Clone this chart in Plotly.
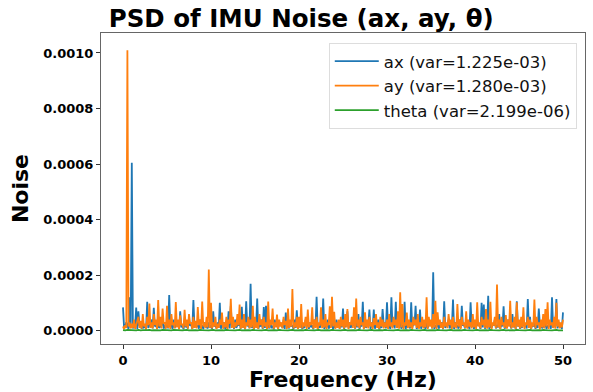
import plotly.graph_objects as go

# PSD values in units of 1e-5, frequency grid 0.125 Hz (0 .. 50 Hz)
ax_psd = [
    8.4, 1, 1.5, 3, 2, 0.5, 12, 1, 60.5, 0.8, 2, 1.5, 8.3, 0.6, 7, 2, 2, 0.7, 3, 1.2, 1.5, 0.5, 10.4, 1, 2, 2.5, 4, 0.8, 8.2, 1.5, 2, 0.6, 3, 1, 1.5, 2, 4, 0.7, 2, 1.2,
    3, 0.8, 12.8, 1.5, 2, 0.6, 4, 1, 2, 2.5, 3, 0.7, 7, 1.2, 2, 0.5, 3, 1.5, 1.5, 0.8, 4, 2, 2, 0.6, 11, 1, 3, 1.5, 2, 0.7, 4, 1.2, 2, 0.5, 3, 2, 1.5, 0.8, 3, 1,
    2, 0.6, 7, 1.5, 2, 0.8, 3, 1, 10, 0.7, 2, 2, 3, 0.5, 1.5, 1.2, 7, 0.8, 9, 1.5, 2, 0.6, 4, 1, 2, 2, 3, 0.7, 8.6, 1.2, 2, 0.5, 10.6, 1.5, 3, 0.8, 16.9, 1, 2, 0.6,
    3, 1.2, 11.6, 0.7, 2, 1.5, 4, 0.6, 8.5, 1, 9, 2, 2, 0.8, 3, 1.2, 1.5, 0.5, 4, 1.5, 2, 0.7, 3, 2, 2, 1, 4, 0.6, 6.5, 1.2, 2, 0.8, 3, 1.5, 2, 0.5, 4, 1, 7.3, 0.7,
    2, 1.5, 3, 0.6, 1.5, 1, 4, 2, 2, 0.7, 3, 1.2, 2, 0.5, 4, 1.5, 12.2, 0.8, 2, 1, 3, 2, 11.6, 0.6, 2, 1.2, 4, 0.7, 2, 1.5, 3, 0.5, 2, 1, 4, 2, 2, 0.8, 3, 1.2,
    8, 0.6, 2, 1.5, 7, 0.8, 3, 1, 2, 2, 4, 0.7, 3, 1.2, 6, 0.5, 2, 1.5, 10.4, 0.8, 3, 1, 2, 2, 7.6, 0.6, 3, 1.2, 7.6, 0.7, 2, 1.5, 4, 0.5, 2, 1, 7.8, 2, 3, 0.8,
    10.2, 1.2, 2, 0.6, 12, 1.5, 3, 0.8, 10.4, 1, 2, 2, 4, 0.7, 2, 1.2, 10.4, 0.5, 3, 1.5, 2, 0.8, 10.2, 1, 3, 2, 9, 0.6, 2, 1.2, 7.6, 0.7, 3, 1.5, 2, 0.5, 4, 1, 2, 2,
    3, 0.8, 21, 0.6, 2, 1.2, 4, 0.7, 2, 1.5, 3, 0.5, 10.6, 1, 2, 2, 4, 0.8, 2, 1.2, 11.2, 0.6, 3, 1.5, 2, 0.7, 4, 1, 9, 2, 2, 0.8, 3, 1.2, 2, 0.5, 10.2, 1.5, 3, 0.7,
    2, 1, 4, 2, 2, 0.6, 10, 1.2, 9.4, 0.7, 2, 1.5, 12.6, 0.5, 3, 1, 2, 2, 4, 0.8, 2, 1.2, 6, 0.6, 3, 1.5, 8.8, 0.7, 2, 1, 4, 2, 2, 0.8, 6, 1.2, 3, 0.5, 10.6, 1.5,
    3, 0.7, 2, 1, 4, 2, 2, 0.8, 11.4, 1.2, 5, 0.6, 2, 1.5, 3, 0.7, 2, 1, 8, 2, 3, 0.8, 2, 1.2, 4, 0.5, 2, 1.5, 3, 0.7, 12, 1, 2, 2, 11.4, 0.8, 3, 1.2, 2, 0.6,
    6.6,
]
ay_psd = [
    1.5, 0.5, 2, 1, 101, 1.5, 3, 0.8, 2.5, 1, 4, 0.6, 2, 3.5, 5, 1, 3.5, 0.7, 6, 1.5, 2.5, 0.5, 5, 2, 9.8, 1, 3, 0.8, 6, 2, 4, 0.6, 11, 1.5, 5, 0.8, 8, 2.5, 3, 0.7,
    9, 1, 4, 0.6, 6, 2, 3, 0.8, 10.3, 1.2, 4, 0.5, 5.5, 2, 2.5, 0.9, 7.5, 1.5, 4, 0.7, 6, 2.5, 3, 0.6, 5, 1, 3.5, 0.8, 8.5, 2, 4, 0.6, 10.5, 1.5, 3, 0.9, 5, 1.2, 22, 1,
    10, 0.8, 3, 1.5, 5, 0.6, 2.5, 1, 4, 2, 6.5, 0.7, 3, 1.2, 5, 0.5, 4, 2.5, 11.5, 1, 5, 0.8, 3, 1.5, 6, 2, 9.4, 0.7, 4, 1, 6, 0.6, 3, 1.8, 5, 0.9, 4, 1.2, 9, 0.6,
    5, 1, 3, 0.7, 6, 2, 4, 0.8, 5, 1.5, 3, 0.6, 10.5, 1, 4, 2, 8, 0.7, 3, 1.2, 5.8, 0.5, 4, 1.5, 3, 0.8, 5, 2, 3.5, 0.6, 8, 1, 4, 1.5, 15, 0.8, 3, 1.2, 5, 0.6,
    5, 1, 9.6, 0.8, 3, 1.5, 5, 0.6, 7.6, 1.2, 3, 2, 8.4, 0.7, 4, 1, 5, 0.5, 3, 1.8, 8.4, 0.9, 4, 1.2, 6, 0.6, 3, 2, 8.8, 1, 12.2, 1.5, 6.8, 0.7, 3, 1, 4, 0.6, 5, 1.5,
    4, 0.8, 6, 1.2, 7.8, 0.6, 3, 2, 5, 1, 8.4, 0.7, 11.6, 1.5, 4, 0.9, 5, 2, 3, 0.5, 6.6, 1.2, 4, 0.8, 5, 1.5, 3, 0.6, 4.5, 2, 6, 1, 3, 0.7, 5, 1.5, 4, 0.8, 3, 1.2,
    4, 0.6, 6, 1.5, 3, 0.8, 5, 2, 4, 1, 7, 0.7, 13.8, 1.2, 9.6, 0.5, 3, 1.8, 6.5, 0.9, 4, 1.2, 3, 0.6, 5, 2, 4, 1, 6, 0.7, 3, 1.5, 5, 0.8, 4, 1.2, 12, 0.6, 5, 1.5,
    4, 0.8, 6, 1.2, 10.8, 0.6, 6.6, 2, 4, 1, 3, 0.7, 5, 1.5, 3, 0.9, 6, 2, 4, 0.5, 5, 1.2, 3, 0.8, 9.6, 1.5, 4, 0.6, 5, 2, 3, 1, 7, 0.7, 4, 1.5, 3, 0.8, 6, 1.2,
    4, 0.6, 10.2, 1.5, 3, 0.8, 5, 2, 4, 1, 7.8, 0.7, 4, 1.2, 10.4, 0.5, 3, 1.8, 5, 0.9, 16.6, 1.2, 4, 0.6, 5, 2, 3, 1, 5.6, 0.7, 4, 1.5, 10.8, 0.8, 3, 1.2, 5, 0.6, 10.2, 1.5,
    4, 0.8, 5, 1.2, 8.4, 0.6, 3, 2, 5, 1, 4, 0.7, 3, 1.5, 11.2, 0.9, 5, 2, 3, 0.5, 4, 1.2, 6, 0.8, 7.8, 1.5, 10.2, 0.6, 4, 2, 3, 1, 5, 0.7, 10, 1.5, 4, 0.8, 3, 1.2,
    4,
]
# theta PSD on a 0.25 Hz grid (units of 1e-5)
theta_psd = [
    0.2, 0.1, 0.3, 0.2, 0.1, 0.2, 0.1, 0.3, 0.1, 0.2, 0.1, 0.2, 0.3, 0.1, 0.2, 0.1, 0.2, 0.1, 0.3, 0.2,
    0.1, 0.2, 0.1, 0.3, 0.2, 0.1, 0.2, 0.1, 0.2, 0.3, 0.1, 0.2, 0.1, 0.2, 0.1, 0.3, 0.2, 0.1, 0.2, 0.1,
    0.2, 0.3, 0.1, 0.2, 0.1, 0.2, 0.1, 0.3, 0.2, 0.1, 0.2, 0.1, 0.2, 0.3, 0.1, 0.2, 0.1, 0.2, 0.1, 0.3,
    0.2, 0.1, 0.2, 0.1, 0.2, 0.3, 0.1, 0.2, 0.1, 0.2, 0.1, 0.3, 0.2, 0.1, 0.2, 0.1, 0.2, 0.3, 0.1, 0.2,
    0.1, 0.2, 0.1, 0.3, 0.2, 0.1, 0.2, 0.1, 0.2, 0.3, 0.1, 0.2, 0.1, 0.2, 0.1, 0.3, 0.2, 0.1, 0.2, 0.1,
    0.2, 0.3, 0.1, 0.2, 0.1, 0.2, 0.1, 0.3, 0.2, 0.1, 0.2, 0.1, 0.2, 0.3, 0.1, 0.2, 0.1, 0.2, 0.1, 0.3,
    0.2, 0.1, 0.2, 0.1, 0.2, 0.3, 0.1, 0.2, 0.1, 0.2, 0.1, 0.3, 0.2, 0.1, 0.2, 0.1, 0.2, 0.3, 0.1, 0.2,
    0.1, 0.2, 0.1, 0.3, 0.2, 0.1, 0.2, 0.1, 0.2, 0.3, 0.1, 0.2, 0.1, 0.2, 0.1, 0.3, 0.2, 0.1, 0.2, 0.1,
    0.2, 0.3, 0.1, 0.2, 0.1, 0.2, 0.1, 0.3, 0.2, 0.1, 0.2, 0.1, 0.2, 0.3, 0.1, 0.2, 0.1, 0.2, 0.1, 0.3,
    0.2, 0.1, 0.2, 0.1, 0.2, 0.3, 0.1, 0.2, 0.1, 0.2, 0.1, 0.3, 0.2, 0.1, 0.2, 0.1, 0.2, 0.3, 0.1, 0.2,
    0.1,
]
unit = 1e-5
f_max = 50.0

series_names = [
    "ax (var=1.225e-03)",
    "ay (var=1.280e-03)",
    "theta (var=2.199e-06)",
]
series_colors = ["#1f77b4", "#ff7f0e", "#2ca02c"]
y_ticks = [0.0, 0.0002, 0.0004, 0.0006, 0.0008, 0.0010]
x_ticks = [0, 10, 20, 30, 40, 50]


def grid(vals):
    step = f_max / (len(vals) - 1)
    return [i * step for i in range(len(vals))]


fig = go.Figure()
for name, vals, col in zip(series_names, [ax_psd, ay_psd, theta_psd], series_colors):
    fig.add_trace(go.Scatter(
        x=grid(vals), y=[v * unit for v in vals], mode="lines", name=name,
        line=dict(color=col, width=1.8),
    ))

font_fam = "DejaVu Sans"
fig.update_layout(
    width=593, height=392,
    margin=dict(l=101, r=8, t=33, b=48),
    paper_bgcolor="white", plot_bgcolor="white",
    font=dict(family=font_fam, color="black"),
    title=dict(
        text="<b>PSD of IMU Noise (ax, ay, θ)</b>",
        font=dict(family=font_fam, size=24.5, color="black"),
        x=0.508, xref="container", xanchor="center",
        y=0.952, yref="container", yanchor="middle",
    ),
    showlegend=True,
    legend=dict(
        x=0.983, y=0.968, xanchor="right", yanchor="top",
        bgcolor="rgba(255,255,255,0.8)", bordercolor="#dddddd", borderwidth=1,
        font=dict(family=font_fam, size=16.5, color="#111111"),
        tracegroupgap=0, itemwidth=44,
    ),
)
fig.update_xaxes(
    range=[-2.5, 52.5], tickvals=x_ticks,
    ticktext=[f"<b>{t}</b>" for t in x_ticks],
    tickfont=dict(family=font_fam, size=13, color="black"),
    ticks="outside", ticklen=4, tickcolor="#333",
    showline=True, linecolor="#666", linewidth=1, mirror=True,
    showgrid=False, zeroline=False,
    title=dict(text="<b>Frequency (Hz)</b>", font=dict(family=font_fam, size=22, color="black"), standoff=2),
)
fig.update_yaxes(
    range=[-0.000048, 0.001072], tickvals=y_ticks,
    ticktext=[f"<b>{t:.4f}</b>" for t in y_ticks],
    tickfont=dict(family=font_fam, size=13, color="black"),
    ticks="outside", ticklen=4, tickcolor="#333",
    showline=True, linecolor="#666", linewidth=1, mirror=True,
    showgrid=False, zeroline=False,
    title=dict(text="<b>Noise</b>", font=dict(family=font_fam, size=22, color="black"), standoff=8),
)

fig.write_html("out.html")
